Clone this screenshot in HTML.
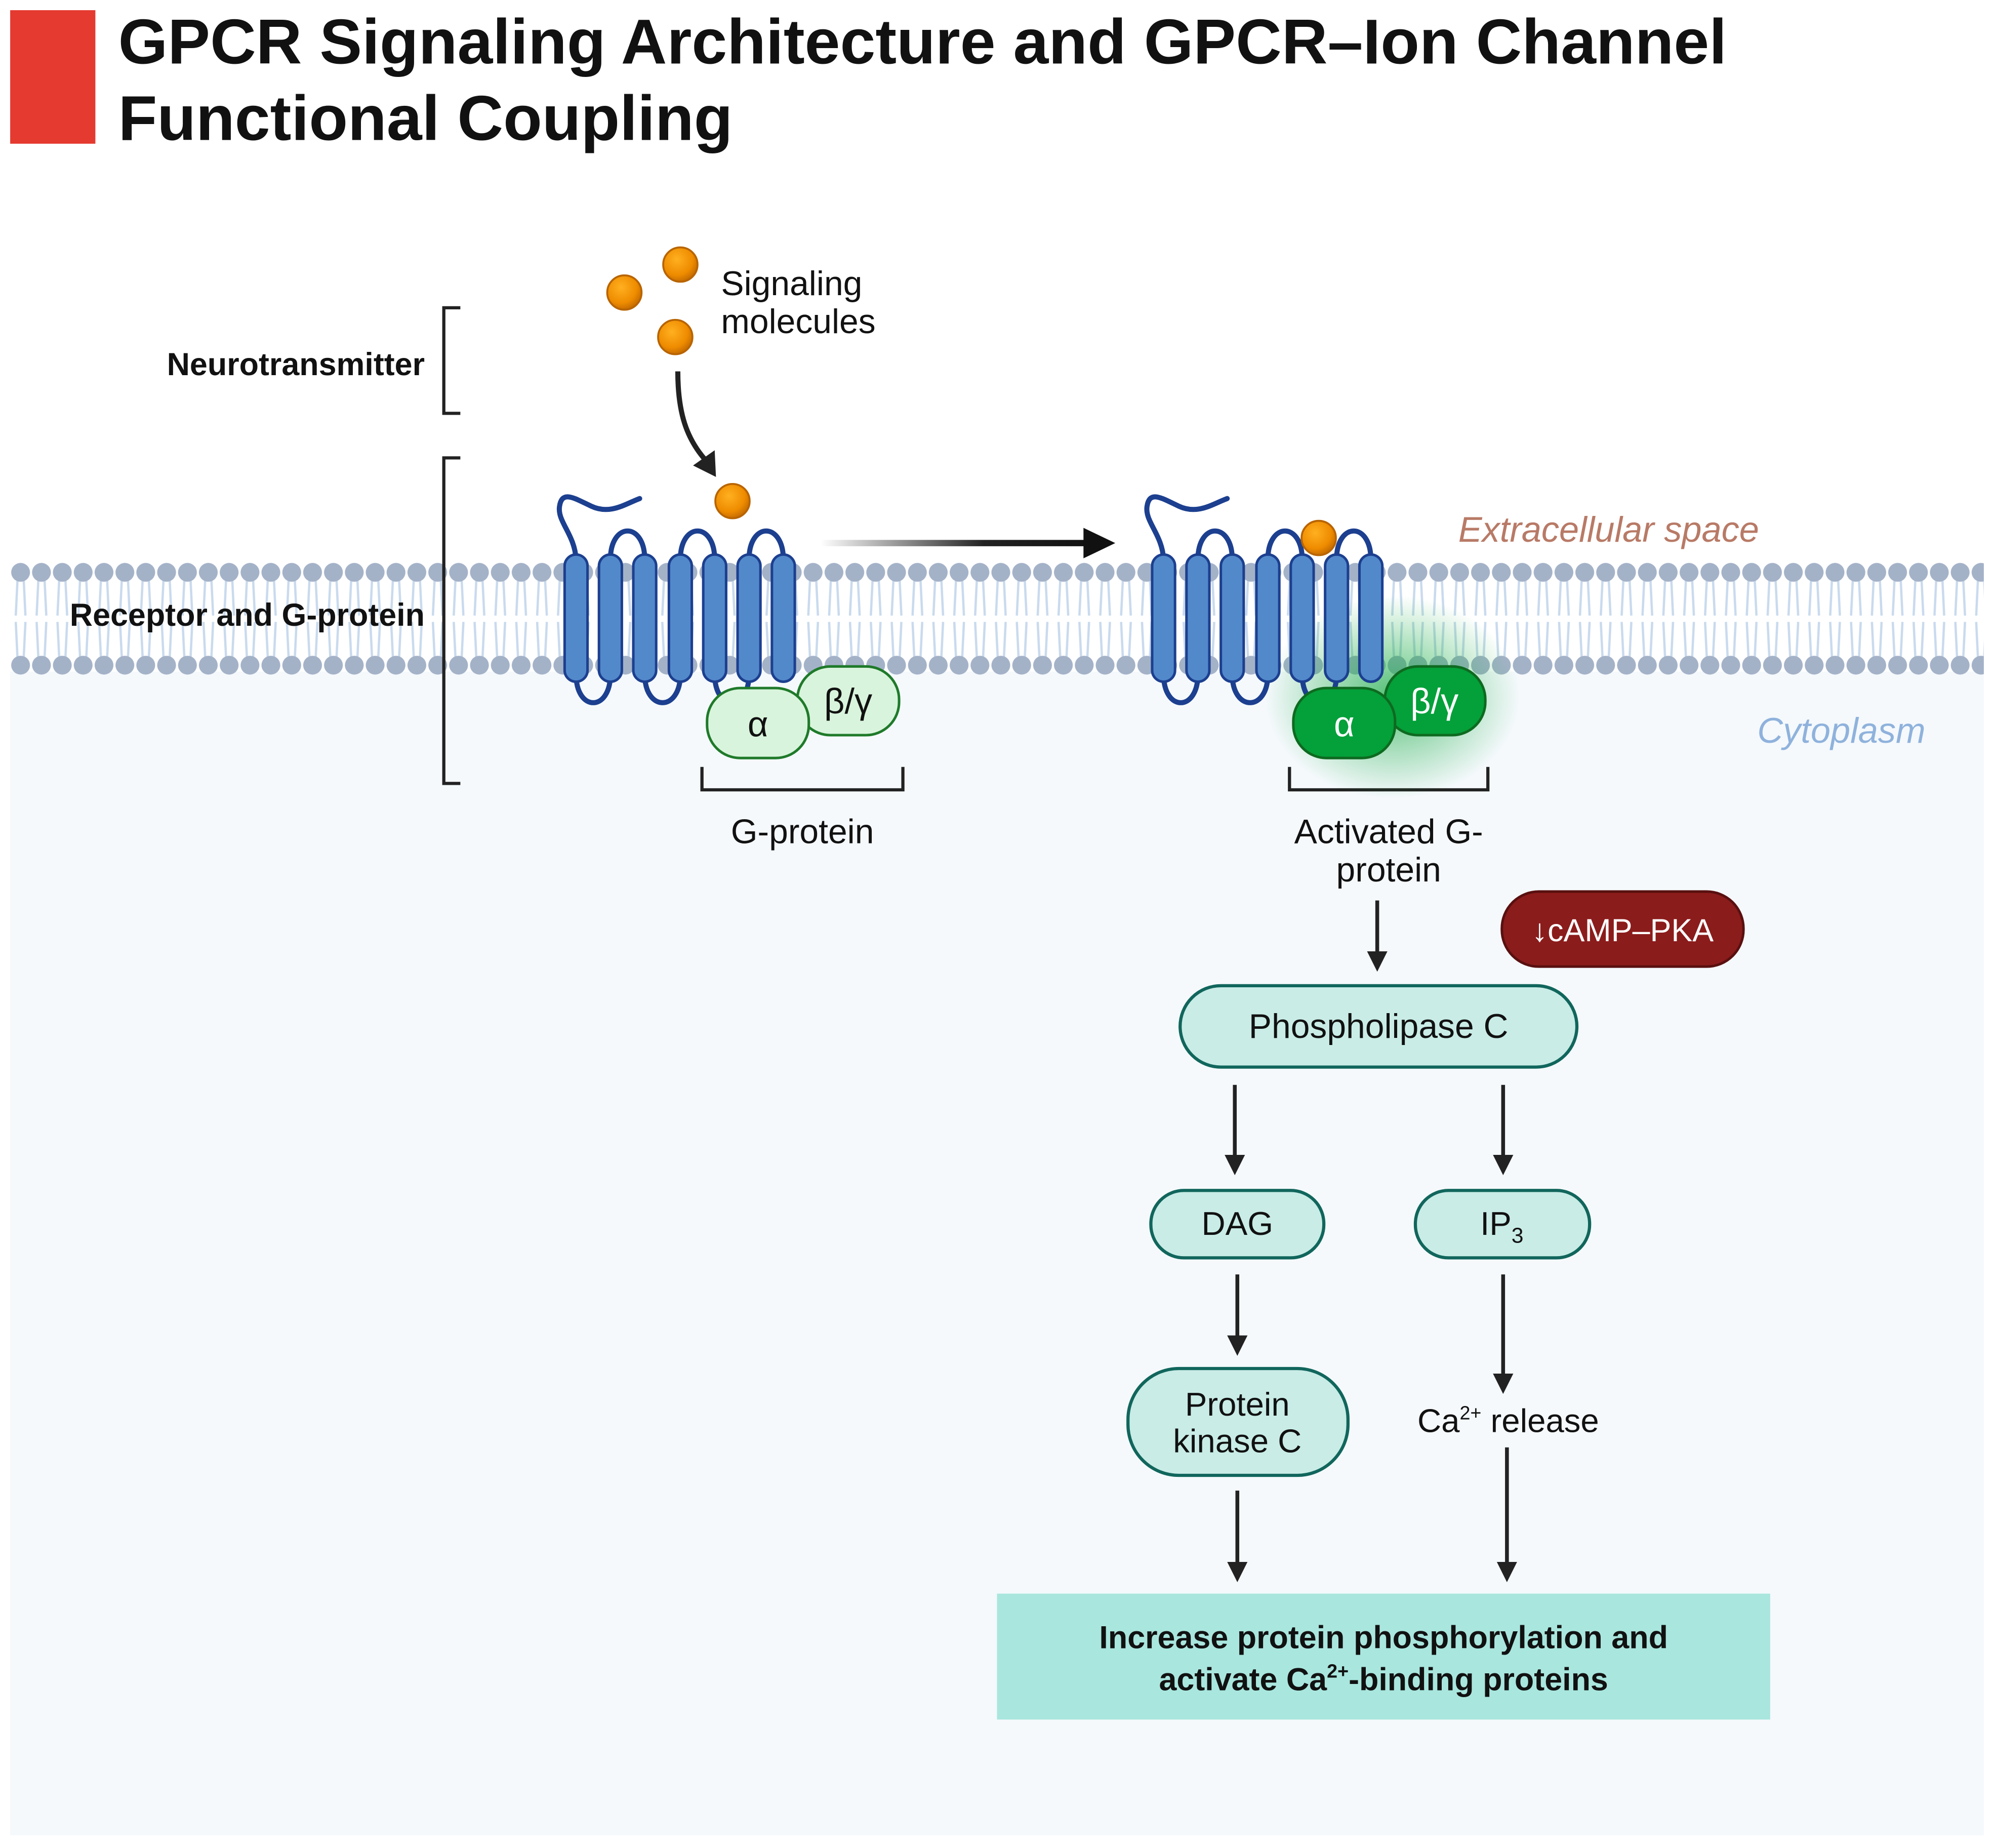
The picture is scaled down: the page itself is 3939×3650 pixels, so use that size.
<!DOCTYPE html>
<html><head><meta charset="utf-8"><style>
html,body{margin:0;padding:0;background:#fff}
svg{display:block}
text{font-family:"Liberation Sans",sans-serif}
</style></head><body>
<svg width="3939" height="3650" viewBox="0 0 1568 1453" preserveAspectRatio="none" xmlns="http://www.w3.org/2000/svg">
<defs>
<pattern id="lip" patternUnits="userSpaceOnUse" x="8" y="440" width="16.4" height="93">
<path d="M5.8 15 L4.4 44 M10.6 15 L12 44 M4.4 49 L5.8 78 M12 49 L10.6 78" stroke="#c9daee" stroke-width="1.8" fill="none"/>
<circle cx="8.2" cy="10" r="7.4" fill="#a4b2c8"/>
<circle cx="8.2" cy="83" r="7.4" fill="#a4b2c8"/>
</pattern>
<radialGradient id="ball" cx="0.4" cy="0.35" r="0.65">
<stop offset="0" stop-color="#ffb020"/><stop offset="0.7" stop-color="#ef8c00"/><stop offset="1" stop-color="#c86e00"/>
</radialGradient>
<radialGradient id="glow" cx="0.5" cy="0.5" r="0.5">
<stop offset="0" stop-color="#1fae4a" stop-opacity="0.75"/><stop offset="1" stop-color="#1fae4a" stop-opacity="0"/>
</radialGradient>
<linearGradient id="harr" x1="645" y1="0" x2="860" y2="0" gradientUnits="userSpaceOnUse">
<stop offset="0" stop-color="#222" stop-opacity="0"/><stop offset="0.6" stop-color="#222"/><stop offset="1" stop-color="#111"/>
</linearGradient>
<g id="rec">
<g fill="none" stroke="#1c3f8f" stroke-width="4" stroke-linecap="round">
<path d="M453 440 C452 420 438 410 440 398 C442 385 452 392 465 398 C480 405 492 396 503 392"/>
<path d="M480 440 C480 410 507 410 507 440"/>
<path d="M535 440 C535 410 562 410 562 440"/>
<path d="M589 440 C589 410 616 410 616 440"/>
<path d="M453 530 C453 560 480 560 480 530"/>
<path d="M507 530 C507 560 535 560 535 530"/>
<path d="M562 530 C562 560 589 560 589 530"/>
</g>
<g fill="#5289cb" stroke="#1c3f8f" stroke-width="2">
<rect x="444" y="436" width="18" height="100" rx="9"/>
<rect x="471" y="436" width="18" height="100" rx="9"/>
<rect x="498" y="436" width="18" height="100" rx="9"/>
<rect x="526" y="436" width="18" height="100" rx="9"/>
<rect x="553" y="436" width="18" height="100" rx="9"/>
<rect x="580" y="436" width="18" height="100" rx="9"/>
<rect x="607" y="436" width="18" height="100" rx="9"/>
</g>
</g>
<marker id="ah" markerWidth="16" markerHeight="18" refX="10" refY="8" orient="auto" markerUnits="userSpaceOnUse" viewBox="0 0 16 16"><path d="M0 0 L16 8 L0 16 Z" fill="#222"/></marker>
</defs>

<rect x="8" y="8" width="67" height="105" fill="#e53a30"/>
<text x="93" y="50" font-size="50" font-weight="bold" fill="#111">GPCR Signaling Architecture and GPCR–Ion Channel</text>
<text x="93" y="110" font-size="50" font-weight="bold" fill="#111">Functional Coupling</text>

<rect x="8" y="528" width="1552" height="915" fill="#f5f9fc"/>
<rect x="8" y="440" width="1552" height="93" fill="url(#lip)"/>

<g stroke="#222" stroke-width="2.5" fill="none">
<path d="M362 242 H349 V325 H362"/>
<path d="M362 360 H349 V616 H362"/>
<path d="M552 603 V621 H710 V603"/>
<path d="M1014 603 V621 H1170 V603"/>
</g>
<text x="334" y="295" font-size="25" font-weight="bold" text-anchor="end" fill="#111">Neurotransmitter</text>
<text x="334" y="492" font-size="25" font-weight="bold" text-anchor="end" fill="#111">Receptor and G-protein</text>

<g stroke="#b86400" stroke-width="1.5">
<circle cx="491" cy="230" r="13.5" fill="url(#ball)"/>
<circle cx="535" cy="208" r="13.5" fill="url(#ball)"/>
<circle cx="531" cy="265" r="13.5" fill="url(#ball)"/>
<circle cx="576" cy="394" r="13.5" fill="url(#ball)"/>
</g>
<text x="567" y="232" font-size="27" fill="#111">Signaling</text>
<text x="567" y="262" font-size="27" fill="#111">molecules</text>
<path d="M533 292 C533 325 540 345 555 362" stroke="#222" stroke-width="4" fill="none"/>
<path d="M545 366 L563 375 L562 354 Z" fill="#222"/>

<use href="#rec"/>
<rect x="627" y="524" width="80" height="54" rx="26" fill="#d9f4dc" stroke="#1f7a2a" stroke-width="2"/>
<text x="667" y="561" font-size="28" text-anchor="middle" fill="#111">β/γ</text>
<rect x="556" y="541" width="80" height="55" rx="26" fill="#d9f4dc" stroke="#1f7a2a" stroke-width="2"/>
<text x="596" y="579" font-size="28" text-anchor="middle" fill="#111">α</text>
<text x="631" y="663" font-size="27" text-anchor="middle" fill="#111">G-protein</text>

<path d="M645 427 H858" stroke="url(#harr)" stroke-width="5"/>
<path d="M852 415 L877 427 L852 439 Z" fill="#111"/>

<ellipse cx="1095" cy="548" rx="100" ry="80" fill="url(#glow)"/>
<use href="#rec" transform="translate(462 0)"/>
<circle cx="1037" cy="423" r="13.5" fill="url(#ball)" stroke="#b86400" stroke-width="1.5"/>
<rect x="1089" y="524" width="79" height="54" rx="26" fill="#04a03a" stroke="#0e6a20" stroke-width="2"/>
<text x="1128" y="561" font-size="28" text-anchor="middle" fill="#fff">β/γ</text>
<rect x="1017" y="541" width="80" height="55" rx="26" fill="#04a03a" stroke="#0e6a20" stroke-width="2"/>
<text x="1057" y="579" font-size="28" text-anchor="middle" fill="#fff">α</text>
<text x="1092" y="663" font-size="27" text-anchor="middle" fill="#111">Activated G-</text>
<text x="1092" y="693" font-size="27" text-anchor="middle" fill="#111">protein</text>

<text x="1265" y="426" font-size="28" font-style="italic" text-anchor="middle" fill="#b87a66">Extracellular space</text>
<text x="1448" y="584" font-size="28" font-style="italic" text-anchor="middle" fill="#8fb2dc">Cytoplasm</text>

<g stroke="#222" stroke-width="3" marker-end="url(#ah)">
<path d="M1083 708 V758"/>
<path d="M971 853 V918"/>
<path d="M1182 853 V918"/>
<path d="M973 1002 V1060"/>
<path d="M1182 1002 V1090"/>
<path d="M973 1172 V1238"/>
<path d="M1185 1138 V1238"/>
</g>

<rect x="1181" y="701" width="190" height="59" rx="29" fill="#8b1c1c" stroke="#5a1010" stroke-width="2"/>
<text x="1276" y="740" font-size="25" text-anchor="middle" fill="#fff">↓cAMP–PKA</text>

<rect x="928" y="775" width="312" height="64" rx="32" fill="#c9ece6" stroke="#11665c" stroke-width="2.5"/>
<text x="1084" y="816" font-size="27" text-anchor="middle" fill="#111">Phospholipase C</text>

<rect x="905" y="936" width="136" height="53" rx="26" fill="#c9ece6" stroke="#11665c" stroke-width="2.5"/>
<text x="973" y="971" font-size="26" text-anchor="middle" fill="#111">DAG</text>
<rect x="1113" y="936" width="137" height="53" rx="26" fill="#c9ece6" stroke="#11665c" stroke-width="2.5"/>
<text x="1181" y="971" font-size="26" text-anchor="middle" fill="#111">IP<tspan font-size="17" dy="6">3</tspan></text>

<rect x="887" y="1076" width="173" height="84" rx="40" fill="#c9ece6" stroke="#11665c" stroke-width="2.5"/>
<text x="973" y="1113" font-size="26" text-anchor="middle" fill="#111">Protein</text>
<text x="973" y="1142" font-size="26" text-anchor="middle" fill="#111">kinase C</text>

<text x="1186" y="1126" font-size="26" text-anchor="middle" fill="#111">Ca<tspan font-size="15" dy="-10">2+</tspan><tspan dy="10"> release</tspan></text>

<rect x="784" y="1253" width="608" height="99" fill="#a9e6de"/>
<text x="1088" y="1296" font-size="25" font-weight="bold" text-anchor="middle" fill="#111">Increase protein phosphorylation and</text>
<text x="1088" y="1329" font-size="25" font-weight="bold" text-anchor="middle" fill="#111">activate Ca<tspan font-size="15" dy="-10">2+</tspan><tspan dy="10">-binding proteins</tspan></text>
</svg>
</body></html>
